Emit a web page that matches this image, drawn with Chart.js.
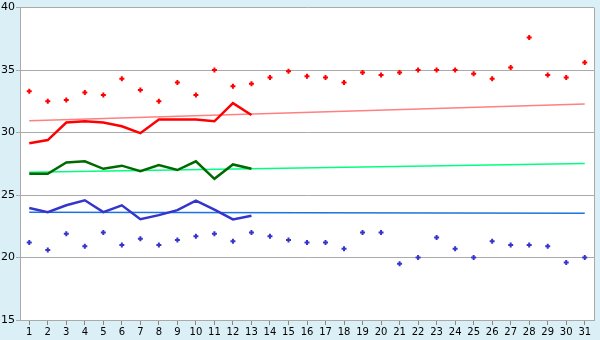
<!DOCTYPE html>
<html>
<head>
<meta charset="utf-8">
<script src="https://cdn.jsdelivr.net/npm/chart.js@4"></script>
<style>
  body { margin: 0; background: #daeff6; }
  canvas { display: block; }
</style>
</head>
<body>
<canvas id="chart" width="600" height="340"></canvas>
<script>
// day labels on the x axis
let days = [];
for (let d = 1; d <= 31; d++) days.push(String(d));

// upper scatter (red crosses)
let redPoints = [33.3, 32.5, 32.6, 33.2, 33.0, 34.3, 33.4, 32.5, 34.0, 33.0,
    35.0, 33.7, 33.9, 34.4, 34.9, 34.5, 34.4, 34.0, 34.8, 34.6,
    34.8, 35.0, 35.0, 35.0, 34.7, 34.3, 35.2, 37.6, 34.6, 34.4, 35.6];

// lower scatter (blue crosses)
let bluePoints = [21.2, 20.6, 21.9, 20.9, 22.0, 21.0, 21.5, 21.0, 21.4, 21.7,
    21.9, 21.3, 22.0, 21.7, 21.4, 21.2, 21.2, 20.7, 22.0, 22.0,
    19.5, 20.0, 21.6, 20.7, 20.0, 21.3, 21.0, 21.0, 20.9, 19.6, 20.0];

// thick lines, days 1-13
let redLine = [29.15, 29.4, 30.8, 30.9, 30.8, 30.5, 29.95, 31.05, 31.05, 31.05, 30.9, 32.35, 31.4];
let greenLine = [26.7, 26.7, 27.6, 27.7, 27.1, 27.35, 26.9, 27.4, 27.0, 27.7, 26.3, 27.45, 27.1];
let blueLine = [23.97, 23.63, 24.18, 24.58, 23.63, 24.18, 23.07, 23.39, 23.79, 24.56, 23.83, 23.05, 23.35];

// trend lines: value at day 1 and day 31
let redTrend = [30.95, 32.28];
let greenTrend = [26.83, 27.52];
let blueTrend = [23.63, 23.55];

function ends(vals) {
    return [{x: days[0], y: vals[0]}, {x: days[days.length - 1], y: vals[1]}];
}

let frame = {
    id: 'frame',
    beforeDraw(chart) {
        let c = chart.ctx, a = chart.chartArea;
        c.save();
        c.fillStyle = '#daeff6';
        c.fillRect(0, 0, chart.width, chart.height);
        c.fillStyle = '#ffffff';
        c.fillRect(a.left, a.top, a.right - a.left, a.bottom - a.top);
        c.restore();
    },
    afterDraw(chart) {
        let c = chart.ctx, a = chart.chartArea;
        c.save();
        c.strokeStyle = '#aaaaaa';
        c.lineWidth = 1;
        c.beginPath();
        c.moveTo(Math.round(a.right) + 0.5, a.top);
        c.lineTo(Math.round(a.right) + 0.5, a.bottom);
        c.stroke();
        c.restore();
    }
};

let lineStyle = (color, width) => ({
    borderColor: color,
    backgroundColor: color,
    borderWidth: width,
    pointRadius: 0,
    tension: 0,
    fill: false
});

new Chart(document.getElementById('chart').getContext('2d'), {
    type: 'line',
    data: {
        labels: days,
        datasets: [
            Object.assign({data: redLine}, lineStyle('#ff0000', 2.5)),
            Object.assign({data: greenLine}, lineStyle('#006a00', 2.5)),
            Object.assign({data: blueLine}, lineStyle('#3535cc', 2.5)),
            {
                data: redPoints, showLine: false, pointStyle: 'cross',
                pointRadius: 2.5, pointBorderWidth: 2, borderColor: '#ff0000', backgroundColor: '#ff0000'
            },
            {
                data: bluePoints, showLine: false, pointStyle: 'cross',
                pointRadius: 2.5, pointBorderWidth: 2, borderColor: '#3535cc', backgroundColor: '#3535cc'
            },
            Object.assign({data: ends(redTrend), spanGaps: true}, lineStyle('#ff8080', 1.5)),
            Object.assign({data: ends(greenTrend), spanGaps: true}, lineStyle('#00ff80', 1.5)),
            Object.assign({data: ends(blueTrend), spanGaps: true}, lineStyle('#1a74e0', 1.5))
        ]
    },
    options: {
        responsive: false,
        animation: false,
        layout: {padding: {top: 5, right: 5, left: 0, bottom: 0}},
        plugins: {legend: {display: false}, tooltip: {enabled: false}},
        scales: {
            x: {
                type: 'category',
                offset: true,
                grid: {offset: false, drawOnChartArea: false, tickLength: 5, color: '#888888'},
                border: {color: '#aaaaaa'},
                ticks: {
                    color: '#000', padding: 1, maxRotation: 0, autoSkip: false,
                    font: {family: 'DejaVu Sans', size: 10}
                },
                afterFit(s) { s.height = 20; }
            },
            y: {
                min: 15,
                max: 40,
                ticks: {
                    stepSize: 5, color: '#000', padding: 1,
                    font: {family: 'DejaVu Sans', size: 11}
                },
                grid: {color: '#aaaaaa', tickLength: 4},
                border: {color: '#aaaaaa'},
                afterFit(s) { s.width = 20; }
            }
        }
    },
    plugins: [frame]
});
</script>
</body>
</html>
